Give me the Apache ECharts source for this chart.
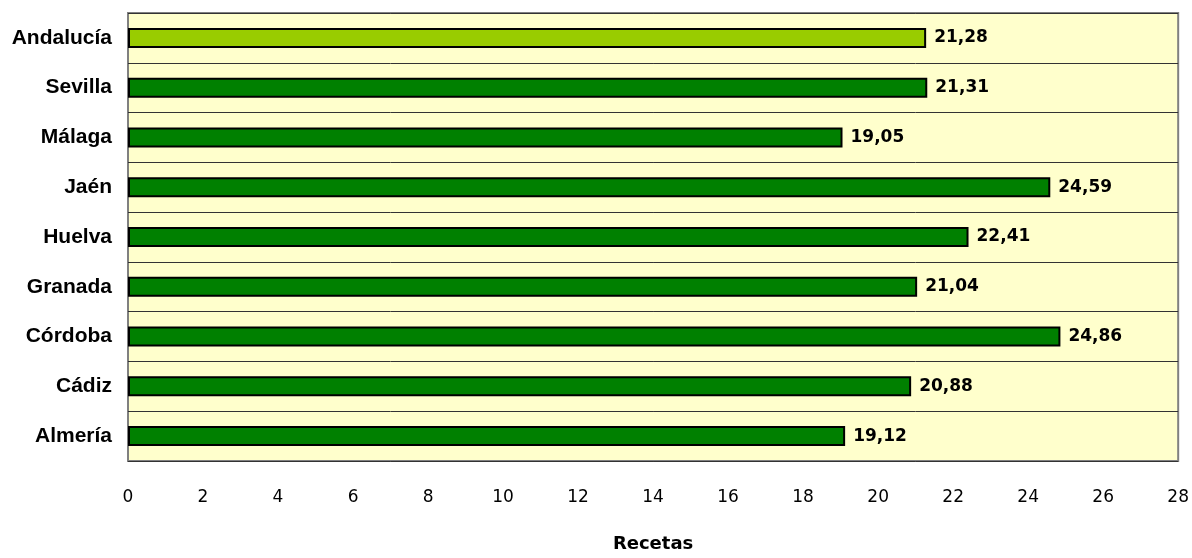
<!DOCTYPE html>
<html>
<head>
<meta charset="utf-8">
<script src="https://cdn.jsdelivr.net/npm/echarts@6/dist/echarts.min.js"></script>
<style>
  html, body { margin: 0; padding: 0; background: #fff; }
  #chart { width: 1192px; height: 558px; }
</style>
</head>
<body>
<div id="chart"></div>
<script>
// categories bottom -> top
const provincias = ["Almería", "Cádiz", "Córdoba", "Granada", "Huelva", "Jaén", "Málaga", "Sevilla", "Andalucía"];
const recetas = [19.12, 20.88, 24.86, 21.04, 22.41, 24.59, 19.05, 21.31, 21.28];
const highlight = "Andalucía";

const chart = echarts.init(document.getElementById("chart"));

chart.setOption({
  animation: false,
  grid: {
    left: 128, right: 9, top: 13, bottom: 94,
    show: true,
    backgroundColor: "#FFFFCC",
    borderColor: "#808080",
    borderWidth: 2
  },
  xAxis: {
    type: "value",
    min: 0, max: 28, interval: 2,
    name: "Recetas",
    nameLocation: "middle",
    nameGap: 74,
    nameTextStyle: { fontFamily: "DejaVu Sans", fontWeight: "bold", fontSize: 18, color: "#000" },
    axisLine: { show: false },
    axisTick: { show: false },
    splitLine: { show: false },
    axisLabel: { margin: 28, fontFamily: "DejaVu Sans", fontSize: 17, color: "#000" }
  },
  yAxis: {
    type: "category",
    data: provincias,
    axisLine: { show: false },
    axisTick: { show: false },
    splitLine: { show: true, lineStyle: { color: "#333", width: 1 } },
    axisLabel: { margin: 16, fontFamily: "Liberation Sans", fontWeight: "bold", fontSize: 21, color: "#000" }
  },
  series: [{
    type: "bar",
    barWidth: 20,
    data: recetas.map((v, i) => ({
      value: v,
      itemStyle: { color: provincias[i] === highlight ? "#99CC00" : "#008000" }
    })),
    itemStyle: { borderColor: "#000", borderWidth: 2 },
    label: {
      show: true,
      position: "right",
      distance: 8,
      fontFamily: "DejaVu Sans",
      fontWeight: "bold",
      fontSize: 17,
      color: "#000",
      formatter: p => p.value.toFixed(2).replace(".", ",")
    }
  }]
});
</script>
</body>
</html>
